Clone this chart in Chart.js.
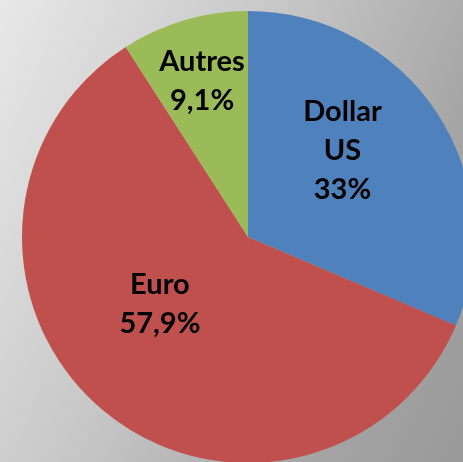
<!DOCTYPE html>
<html>
<head>
<meta charset="utf-8">
<script src="https://cdn.jsdelivr.net/npm/chart.js@4/dist/chart.umd.min.js"></script>
<style>
  html, body { margin: 0; padding: 0; width: 463px; height: 462px; overflow: hidden; }
  body { background: linear-gradient(115deg, #e8e8e8 0%, #c4c4c4 45%, #a6a6a6 75%, #999999 100%); position: relative; }
  #wrap { position: absolute; left: 22px; top: 11px; width: 452px; height: 452px; }
</style>
</head>
<body>
<div id="wrap"><canvas id="c" width="452" height="452"></canvas></div>
<script>
// Data
const categories = ["Dollar US", "Euro", "Autres"];
const shares = [31.4, 59.5, 9.1];            // slice sizes
const labelLines = [["Dollar", "US", "33%"], ["Euro", "57,9%"], ["Autres", "9,1%"]];
const colors = ["#4f81bd", "#c0504d", "#9bbb59"];

// label placement: [angle in degrees (0 = top, clockwise), fraction of radius]
const labelPlace = [[47.5, 0.567], [232.7, 0.49], [-16.4, 0.72]];

const labelPlugin = {
  id: 'sliceLabels',
  afterDatasetsDraw(chart) {
    const ctx = chart.ctx;
    const meta = chart.getDatasetMeta(0);
    ctx.save();
    ctx.fillStyle = '#000';
    ctx.font = 'bold 29px Lato, "Open Sans", sans-serif';
    ctx.textAlign = 'center';
    ctx.textBaseline = 'middle';
    const lh = 39;
    meta.data.forEach((arc, i) => {
      const p = arc.getProps(['x', 'y', 'outerRadius'], true);
      const ang = labelPlace[i][0] * Math.PI / 180;
      const cx = p.x + Math.sin(ang) * p.outerRadius * labelPlace[i][1];
      const cy = p.y - Math.cos(ang) * p.outerRadius * labelPlace[i][1];
      const lines = labelLines[i];
      const top = cy - (lines.length - 1) * lh / 2;
      lines.forEach((t, k) => ctx.fillText(t, cx, top + k * lh));
    });
    ctx.restore();
  }
};

new Chart(document.getElementById('c'), {
  type: 'pie',
  data: {
    labels: categories,
    datasets: [{
      data: shares,
      backgroundColor: colors,
      borderWidth: 0,
      hoverOffset: 0
    }]
  },
  options: {
    responsive: false,
    animation: false,
    layout: { padding: 0 },
    plugins: { legend: { display: false }, tooltip: { enabled: false } }
  },
  plugins: [labelPlugin]
});
</script>
</body>
</html>
